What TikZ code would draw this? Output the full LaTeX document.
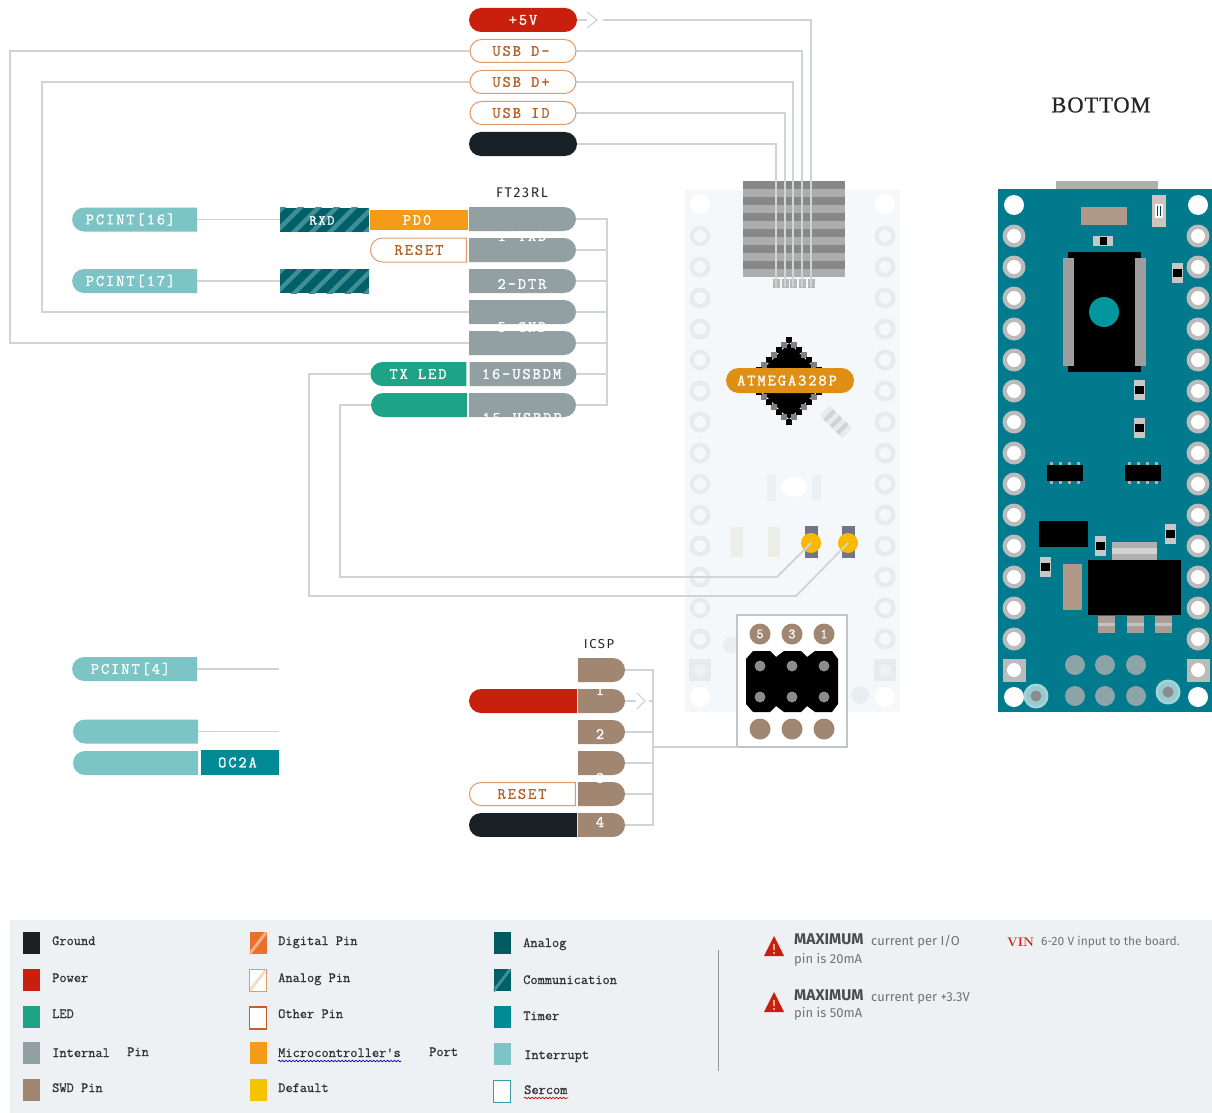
\documentclass[tikz,border=0pt]{standalone}
\usepackage{fontspec}
\usetikzlibrary{shapes.misc,shapes.geometric,decorations.pathmorphing}
\newfontfamily\pinfont[LetterSpace=12,FakeBold=1.2]{Latin Modern Mono}
\newfontfamily\legfont[FakeBold=0.8]{Latin Modern Mono}
\newfontfamily\sansf{Fira Sans}
\newfontfamily\titlef[LetterSpace=12]{Fira Sans}
\newfontfamily\bottomf[LetterSpace=4,FakeBold=0.8]{Liberation Serif}
\definecolor{cblack}{HTML}{1A2126}
\definecolor{cred}{HTML}{C8200C}
\definecolor{cgrey}{HTML}{93A0A3}
\definecolor{cled}{HTML}{1FA387}
\definecolor{ctan}{HTML}{A18672}
\definecolor{cport}{HTML}{F49B17}
\definecolor{cint}{HTML}{7CC4C6}
\definecolor{ctimer}{HTML}{008A93}
\definecolor{cana}{HTML}{005A60}
\definecolor{ccomm}{HTML}{005F68}
\definecolor{ccomml}{HTML}{3F8F95}
\definecolor{cout}{HTML}{E39A66}
\definecolor{ctxt}{HTML}{B5622A}
\definecolor{cwire}{HTML}{D0D4D5}
\definecolor{cghost}{HTML}{F4F8FA}
\definecolor{cring}{HTML}{E6EBED}
\definecolor{cboard}{HTML}{007A8C}
\definecolor{cleg}{HTML}{EDF1F3}
\definecolor{cdef}{HTML}{F5C400}
\definecolor{cdig}{HTML}{E8702A}
\definecolor{cpad}{HTML}{AFAFAF}
\pgfdeclarelayer{board}
\pgfdeclarelayer{wires}
\pgfsetlayers{board,wires,main}
\tikzset{
  pinbase/.style={inner sep=0pt,outer sep=0pt,font=\pinfont\fontsize{16}{16}\selectfont,text=white,minimum height=24pt},
  pillr/.style={pinbase,rounded rectangle,rounded rectangle west arc=none},
  pilll/.style={pinbase,rounded rectangle,rounded rectangle east arc=none},
  pillb/.style={pinbase,rounded rectangle},
  flat/.style={pinbase,rectangle},
  outlined/.style={draw=cout,line width=1pt,fill=white,text=ctxt},
  hatchbox/.style={flat,fill=ccomm,path picture={\foreach \i in {-6,...,6}{\draw[ccomml,line width=4.5pt] (path picture bounding box.center) ++(\i*18-22,22) -- ++(44,-44);}}},
  ghosttext/.style={inner sep=0pt,font=\pinfont\fontsize{16}{16}\selectfont,text=white},
  wire/.style={draw=cwire,line width=1.8pt},
  chev/.style={draw=cwire,line width=1.3pt},
  leg/.style={anchor=west,inner sep=0pt,text height=9pt,text depth=1pt,font=\legfont\fontsize{14}{14}\selectfont,text=black!80},
  swatch/.style={minimum width=17pt,minimum height=22pt,inner sep=0pt,outer sep=0pt},
  sans/.style={anchor=west,inner sep=0pt,text height=9pt,text depth=2pt,font=\sansf\fontsize{13}{13}\selectfont,text=black!55},
  sansb/.style={anchor=west,inner sep=0pt,text height=9pt,text depth=2pt,font=\sansf\bfseries\fontsize{15.5}{15.5}\selectfont,text=black!70},
  squig/.style={decorate,decoration={snake,amplitude=.8pt,segment length=3.5pt},line width=.7pt},
}
\newcommand{\vres}[2]{\fill[cpad!70!white] (#1-5.5,#2-10) rectangle (#1+5.5,#2+10);\fill[black] (#1-4.5,#2-4) rectangle (#1+4.5,#2+4);}
\begin{document}
\begin{tikzpicture}[x=1pt,y=-1pt]
\useasboundingbox (0,0) rectangle (1212,1113);

% ---- ghost board
\begin{pgfonlayer}{board}
\fill[white] (0,0) rectangle (1212,1113);
\fill[cghost] (685,190) rectangle (900,712);
\foreach \y in {236,267,298,329,360,391,422,453,484,515,546,577,608,639}{
  \foreach \x in {700,885}{
    \fill[cring] (\x,\y) circle (10.5);
    \fill[cghost] (\x,\y) circle (6);
  }
}
\foreach \x in {700,885}{
  \fill[cring] (\x-11,659) rectangle (\x+11,681);
  \fill[cghost!50!cring] (\x,670) circle (6);
  \fill[white] (\x,204) circle (10);
  \fill[white] (\x,697) circle (10);
}
% faded parts
\fill[cring!60!cghost] (767,474) rectangle (821,501);
\fill[cghost] (776,474) rectangle (812,501);
\fill[white] (794,487) ellipse (13 and 10);
\foreach \x in {737,774}{\fill[yellow!5!cghost!96!black] (\x-6,527) rectangle (\x+6,557);}
\begin{scope}[shift={(836,422)},rotate=-45]
\fill[cring] (-16,-7) rectangle (16,7);
\foreach \q in {-9,0,9}{\fill[cring!90!black] (\q-2,-7) rectangle (\q+2,7);}
\end{scope}
\fill[cring!80!cghost] (731,645) circle (8);
\fill[cring!80!cghost] (860,695) circle (9);
% USB connector
\fill[black!47] (743,181) rectangle (845,277);
\foreach \y in {189,205,221,237,253,269}{\fill[black!32] (743,\y) rectangle (845,\y+8);}
\foreach \x in {776,785,793,802,811}{\fill[black!28] (\x-3.5,279) rectangle (\x+3.5,288);}
% chip
\fill[black] (789,343) -- (827,381) -- (789,419) -- (751,381) -- cycle;
\foreach \i in {0,...,8}{
  \pgfmathsetmacro{\da}{\i*5}
  \pgfmathsetmacro{\db}{41-\i*5}
  \pgfmathtruncatemacro{\odd}{mod(\i,2)}
  \ifnum\odd=0 \def\tc{black}\else \def\tc{black!50}\fi
  \foreach \sx/\sy in {1/1,1/-1,-1/1,-1/-1}{
    \fill[\tc] (789+\sx*\da-3,381+\sy*\db-3) rectangle +(6,6);
  }
}
% LEDs
\foreach \x in {811,848}{
  \fill[blue!10!gray] (\x-6.5,526) rectangle (\x+6.5,558);
  \fill[cdef!85!orange] (\x,543) circle (10);
}
% ICSP box
\draw[fill=white,draw=cgrey!60!white,line width=1.5pt] (737,615) rectangle (847,747);
\fill[black] (753,651) -- (770,651) -- (776,657) -- (784,651) -- (801,651) -- (807,657) -- (815,651) -- (832,651)
  -- (838,659) -- (838,704) -- (832,712) -- (815,712) -- (807,706) -- (801,712) -- (784,712) -- (776,706) -- (770,712)
  -- (753,712) -- (746,704) -- (746,659) -- cycle;
\foreach \x in {760,792,824}{
  \fill[black!45] (\x,666) circle (5.5);
  \fill[black!45] (\x,697) circle (5.5);
  \fill[ctan] (\x,729) circle (10.5);
}
% ---- bottom board
\fill[cpad] (1056,181) rectangle (1158,189);
\fill[cboard] (998,189) rectangle (1212,712);
\foreach \y in {236,267,298,329,360,391,422,453,484,515,546,577,608,639}{
  \foreach \x in {1014,1198}{
    \fill[cpad!85!white] (\x,\y) circle (11.5);
    \fill[white] (\x,\y) circle (7);
  }
}
\foreach \x in {1014,1198}{
  \fill[cpad!85!white] (\x-11.5,658.5) rectangle (\x+11.5,681.5);
  \fill[white] (\x,670) circle (7);
  \fill[white] (\x,205) circle (10);
  \fill[white] (\x,697) circle (10);
}
\fill[ctan!85!white] (1081,207) rectangle (1127,225);
\fill[ctan!50!white] (1152,195) rectangle (1166,227);
\fill[cghost] (1155,204) rectangle (1163,218);
\fill[cboard!60!black] (1157,206) rectangle (1158,216);
\fill[cboard!60!black] (1160,206) rectangle (1161,216);
\fill[cpad!70!white] (1093,236) rectangle (1113,246);
\fill[black] (1100,237) rectangle (1107,245);
\fill[black] (1068,252) rectangle (1141,372);
\fill[cpad!90!black] (1063,258) rectangle (1074,366);
\fill[cpad!90!black] (1135,258) rectangle (1146,366);
\fill[ctimer!90!cyan] (1104,312) circle (15);
\vres{1177}{273}
\vres{1139}{390}
\vres{1139}{428}
\vres{1100}{546}
\vres{1170}{534}
\vres{1045}{567}
\foreach \x in {1047,1125}{
  \fill[black] (\x,465) rectangle (\x+36,481);
  \foreach \q in {4,13,22,31}{
    \fill[cpad] (\x+\q-1.5,462) rectangle (\x+\q+1.5,465);
    \fill[cpad] (\x+\q-1.5,481) rectangle (\x+\q+1.5,484);
  }
}
\fill[black] (1039,521) rectangle (1088,547);
\fill[cpad] (1112,542) rectangle (1157,560);
\fill[cpad!55!white] (1112,548) rectangle (1157,554);
\fill[ctan!85!white] (1063,564) rectangle (1082,610);
\foreach \x in {1098,1127,1155}{
  \fill[ctan!45!cpad] (\x,616) rectangle (\x+17,633);
  \fill[cpad!75!white] (\x,623) rectangle (\x+17,626);
}
\fill[black] (1088,560) rectangle (1181,615);
\foreach \x in {1075,1105,1136}{
  \fill[cpad!80!cboard] (\x,665) circle (10);
  \fill[cpad!80!cboard] (\x,696) circle (10);
}
\foreach \x/\y in {1036/696,1168/692}{
  \fill[cint!70!white] (\x,\y) circle (12.5);
  \fill[cboard!40!white] (\x,\y) circle (10);
  \fill[black!45] (\x,\y) circle (5.5);
}
% legend background
\fill[cleg] (10,920) rectangle (1212,1113);
\end{pgfonlayer}

% ---- USB pins
\node[pillb,minimum width=108pt,fill=cred] (p5v) at (523,20) {+5V};
\node[pillb,minimum width=106pt,minimum height=23pt,outlined] (pdm) at (523,51) {\hspace*{-4pt}USB D-};
\node[pillb,minimum width=106pt,minimum height=23pt,outlined] (pdp) at (523,82) {\hspace*{-4pt}USB D+};
\node[pillb,minimum width=106pt,minimum height=23pt,outlined] (pid) at (523,113) {\hspace*{-4pt}USB ID};
\node[pillb,minimum width=108pt,fill=cblack] (pgnd) at (523,144) {};

% ---- FT23RL
\node[inner sep=0pt,font=\titlef\fontsize{14}{14}\selectfont,text=black!85] (tft) at (522,193) {FT23RL};
\node[pillr,minimum width=107pt,fill=cgrey] (f0) at (522.5,219) {};
\node[pillr,minimum width=107pt,fill=cgrey] (f1) at (522.5,250) {};
\node[pillr,minimum width=107pt,fill=cgrey] (f2) at (522.5,281) {};
\node[ghosttext] (f2t) at (522,284) {2-DTR};
\node[pillr,minimum width=107pt,fill=cgrey] (f3) at (522.5,312) {};
\node[pillr,minimum width=107pt,fill=cgrey] (f4) at (522.5,343) {};
\node[pillr,minimum width=107pt,fill=cgrey] (f5) at (522.5,374) {\hspace*{-2pt}16-USBDM};
\node[pillr,minimum width=107pt,fill=cgrey] (f6) at (522.5,405) {};
\node[ghosttext] (g1) at (522,236) {1-TXD};
\node[ghosttext] (g2) at (522,327) {5-GND};
\node[ghosttext] (g3) at (522,418) {15-USBDP};
\fill[white] (465,417.5) rectangle (580,426);

\node[flat,minimum width=98pt,minimum height=20pt,fill=cport] (pd0) at (419,220) {\hspace*{-4pt}PD0};
\node[pilll,minimum width=96pt,outlined] (rst1) at (419,250) {RESET};
\node[hatchbox,minimum width=89pt] (rxd) at (324.5,219.5) {};
\node[inner sep=0pt,font=\pinfont\fontsize{14}{14}\selectfont,text=white] (rxdt) at (322,220.5) {RXD};
\node[hatchbox,minimum width=89pt] (com2) at (324.5,281) {};
\node[pilll,minimum width=96pt,fill=cled] (txl) at (419,374) {\hspace*{-2pt}TX LED};
\node[pilll,minimum width=96pt,fill=cled] (rxl) at (419,405) {};
\node[pilll,minimum width=125pt,fill=cint] (pc16) at (135.5,219.5) {\hspace*{-10pt}PCINT[16]};
\node[pilll,minimum width=125pt,fill=cint] (pc17) at (135.5,281) {\hspace*{-10pt}PCINT[17]};

% ---- lower left
\node[pilll,minimum width=125pt,fill=cint] (pc4) at (135.5,669) {\hspace*{-10pt}PCINT[4]};
\node[pilll,minimum width=125pt,fill=cint] (pc5) at (135.5,731.5) {};
\node[pilll,minimum width=125pt,fill=cint] (pc6) at (135.5,763) {};
\node[flat,minimum width=78pt,minimum height=25pt,fill=ctimer] (oc2a) at (240,762.5) {\hspace*{-5pt}OC2A};
\coordinate (e4) at (279,669);
\coordinate (e5) at (279,731.5);

% ---- ICSP
\node[inner sep=0pt,font=\titlef\fontsize{13}{13}\selectfont,text=black!85] (ticsp) at (599,644) {ICSP};
\node[pillr,minimum width=47pt,fill=ctan] (i0) at (601.5,670) {};
\node[pillr,minimum width=47pt,fill=ctan] (i1) at (601.5,701) {};
\node[pillr,minimum width=47pt,fill=ctan] (i2) at (601.5,732) {};
\node[pillr,minimum width=47pt,fill=ctan] (i3) at (601.5,763) {};
\node[pillr,minimum width=47pt,fill=ctan] (i4) at (601.5,794) {};
\node[pillr,minimum width=47pt,fill=ctan] (i5) at (601.5,825) {};
\node[pilll,minimum width=108pt,fill=cred] (ir) at (523,701) {};
\node[pilll,minimum width=106pt,minimum height=23pt,outlined] (irs) at (523,794) {\hspace*{-2pt}RESET};
\node[pilll,minimum width=108pt,fill=cblack] (ig) at (523,825) {};
\node[ghosttext] (n1) at (600,690) {1};
\node[ghosttext] (n2) at (600,734) {2};
\node[ghosttext] (n3) at (600,778) {3};
\node[ghosttext] (n4) at (600,822) {4};
\fill[white] (465,837) rectangle (630,845);

% ---- chip label and ICSP numbers
\node[pillb,minimum width=128pt,minimum height=25pt,fill=cport!92!black] (atm) at (790,380.5) {\hspace*{-6pt}ATMEGA328P};
\node[circle,fill=ctan,minimum size=21pt,inner sep=0pt,text=white,font=\pinfont\fontsize{14}{14}\selectfont] (h5) at (760,634) {5};
\node[circle,fill=ctan,minimum size=21pt,inner sep=0pt,text=white,font=\pinfont\fontsize{14}{14}\selectfont] (h3) at (792,634) {3};
\node[circle,fill=ctan,minimum size=21pt,inner sep=0pt,text=white,font=\pinfont\fontsize{14}{14}\selectfont] (h1) at (824,634) {1};
\coordinate (box) at (737,747);

% ---- connector targets
\coordinate (u1) at (811,287);
\coordinate (u2) at (802,287);
\coordinate (u3) at (793,287);
\coordinate (u4) at (785,287);
\coordinate (u5) at (776,287);
\coordinate (led1) at (811,543);
\coordinate (led2) at (848,543);

\begin{pgfonlayer}{wires}
% +5V with chevron
\draw[wire] (p5v.east) -- (587,20);
\draw[chev] (587,12) -- (597,20) -- (587,28);
\draw[wire] (603,20) -| (u1);
\draw[wire] (pdm.east) -| (u2);
\draw[wire] (pdp.east) -| (u3);
\draw[wire] (pid.east) -| (u4);
\draw[wire] (pgnd.east) -| (u5);
% USB data round the left
\draw[wire] (pdm.west) -- (10,51) -- (10,343) -- (f4.west);
\draw[wire] (pdp.west) -- (42,82) -- (42,312) -- (f3.west);
% FT bus
\draw[wire] (f0.east) -- (607,219) -- (607,405) -- (f6.east);
\foreach \n/\y in {f1/250,f2/281,f3/312,f4/343,f5/374}{\draw[wire] (\n.east) -- (607,\y);}
% pcint
\draw[wire] (pc16.east) -- (rxd.west);
\draw[wire] (pc17.east) -- (com2.west);
\draw[wire] (pc4.east) -- (e4);
\draw[wire] (pc5.east) -- (e5);
% LEDs
\draw[wire] (txl.west) -- (309,374) -- (309,596) -- (796,596) -- (led2);
\draw[wire] (rxl.west) -- (340,405) -- (340,577) -- (777,577) -- (led1);
% ICSP
\draw[wire] (i0.east) -- (653,670) -- (653,825) -- (i5.east);
\draw[wire] (i2.east) -- (653,732);
\draw[wire] (i3.east) -- (653,763);
\draw[wire] (i4.east) -- (653,794);
\draw[wire] (i1.east) -- (636,701);
\draw[chev] (637,693) -- (645,701) -- (637,709);
\draw[wire] (649,701) -- (653,701);
\draw[wire] (653,747) -- (box);
\end{pgfonlayer}

% ---- BOTTOM
\node[inner sep=0pt,font=\bottomf\fontsize{22.5}{22.5}\selectfont,text=black!85] (bot) at (1101,105) {BOTTOM};

% ---- legend
\node[swatch,fill=cblack] (s11) at (31.5,943) {};
\node[swatch,fill=cred] (s12) at (31.5,980) {};
\node[swatch,fill=cled] (s13) at (31.5,1017) {};
\node[swatch,fill=cgrey] (s14) at (31.5,1053) {};
\node[swatch,fill=ctan] (s15) at (31.5,1090) {};
\node[leg] (t11) at (52,941) {Ground};
\node[leg] (t12) at (52,978) {Power};
\node[leg] (t13) at (52,1014) {LED};
\node[leg] (t14) at (52,1053) {Internal};
\node[leg] (t14b) at (127,1052) {Pin};
\node[leg] (t15) at (52,1088) {SWD Pin};

\node[swatch,fill=cdig,path picture={\draw[cdig!55!white,line width=3pt] (path picture bounding box.south west) -- (path picture bounding box.north east);}] (s21) at (258,943) {};
\node[swatch,fill=white,draw=cout,line width=1pt,path picture={\draw[cout!35!white,line width=3pt] (path picture bounding box.south west) -- (path picture bounding box.north east);}] (s22) at (258,980) {};
\node[swatch,fill=white,draw=cdig!85!black,line width=1.2pt] (s23) at (258,1018) {};
\node[swatch,fill=cport] (s24) at (258,1053) {};
\node[swatch,fill=cdef] (s25) at (258,1090) {};
\node[leg] (t21) at (278,941) {Digital Pin};
\node[leg] (t22) at (278,978) {Analog Pin};
\node[leg] (t23) at (278,1014) {Other Pin};
\node[leg] (t24) at (278,1053) {Microcontroller's};
\node[leg] (t24b) at (429,1052) {Port};
\node[leg] (t25) at (278,1088) {Default};
\draw[squig,draw=blue!70!black] (278,1061) -- (401,1061);

\node[swatch,fill=cana] (s31) at (502,943) {};
\node[swatch,fill=ccomm,path picture={\draw[ccomml,line width=3pt] (path picture bounding box.south west) -- (path picture bounding box.north east);}] (s32) at (502,980) {};
\node[swatch,fill=ctimer] (s33) at (502,1017) {};
\node[swatch,fill=cint] (s34) at (502,1054) {};
\node[swatch,fill=white,draw=ctimer!80!white,line width=1pt] (s35) at (502,1091) {};
\node[leg] (t31) at (523,943) {Analog};
\node[leg] (t32) at (523,980) {Communication};
\node[leg] (t33) at (523,1016) {Timer};
\node[leg] (t34) at (524,1055) {Interrupt};
\node[leg] (t35) at (524,1090) {Sercom};
\draw[squig,draw=red!80!black] (524,1098) -- (568,1098);

\draw[draw=black!40,line width=1pt] (718,950) -- (718,1071);
\foreach \y in {946,1002}{
  \fill[cred] (774,\y-10) -- (784,\y+10) -- (764,\y+10) -- cycle;
  \fill[white!60!cred] (773,\y-2) rectangle (775,\y+4);
  \fill[white!60!cred] (773,\y+6) rectangle (775,\y+8);
}
\node[sansb] (m1) at (794,941) {MAXIMUM};
\node[sans] (m1b) at (871,942) {current per I/O};
\node[sans] (m1c) at (794,960) {pin is 20mA};
\node[sansb] (m2) at (794,997) {MAXIMUM};
\node[sans] (m2b) at (871,998) {current per +3.3V};
\node[sans] (m2c) at (794,1014) {pin is 50mA};
\node[anchor=west,inner sep=0pt,font=\fontfamily{lmr}\bfseries\fontsize{12.5}{12.5}\selectfont,text=cred] (vin) at (1007,942) {VIN};
\node[sans,font=\sansf\fontsize{12}{12}\selectfont] (vint) at (1041,942) {6-20 V input to the board.};
\end{tikzpicture}
\end{document}
